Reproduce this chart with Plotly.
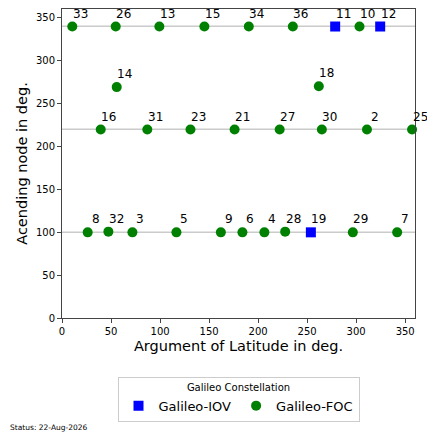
import plotly.graph_objects as go

# Galileo satellites: argument of latitude (deg) and ascending node (deg)
iov_prn = ["11", "12", "19"]
iov_arg_lat = [278.6, 324.5, 253.8]
iov_raan = [339.6, 339.6, 99.8]

foc_prn = ["33", "26", "13", "15", "34", "36", "10",
           "14", "18",
           "16", "31", "23", "21", "27", "30", "2", "25",
           "8", "32", "3", "5", "9", "6", "4", "28", "29", "7"]
foc_arg_lat = [10.5, 54.8, 99.3, 145.2, 190.5, 235.4, 303.4,
               55.8, 261.9,
               39.5, 87.0, 131.0, 176.0, 222.0, 265.0, 311.0, 357.0,
               26.2, 47.3, 71.8, 116.7, 162.0, 184.0, 206.4, 227.6, 296.6, 341.8]
foc_raan = [339.6, 339.6, 339.6, 339.6, 339.6, 339.6, 339.6,
            269.0, 270.0,
            219.6, 219.6, 219.6, 219.6, 219.6, 219.6, 219.6, 219.6,
            99.8, 100.6, 99.8, 99.8, 99.8, 99.8, 99.8, 100.6, 99.8, 99.8]

# orbital planes
plane_raan = [100, 220, 340]

status = "Status: 22-Aug-2026"

font = "DejaVu Sans, Verdana, sans-serif"

fig = go.Figure()

fig.add_trace(go.Scatter(x=iov_arg_lat, y=iov_raan, mode="markers", name="Galileo-IOV",
                         marker=dict(symbol="square", size=10, color="blue"), cliponaxis=False))
fig.add_trace(go.Scatter(x=foc_arg_lat, y=foc_raan, mode="markers", name="Galileo-FOC",
                         marker=dict(symbol="circle", size=10, color="green"), cliponaxis=False))

for r in plane_raan:
    fig.add_shape(type="line", xref="paper", x0=0, x1=1, yref="y", y0=r, y1=r,
                  line=dict(color="#b0b0b0", width=1), layer="below")

for prn, x, y in list(zip(iov_prn, iov_arg_lat, iov_raan)) + list(zip(foc_prn, foc_arg_lat, foc_raan)):
    fig.add_annotation(x=x, y=y, text=prn, showarrow=False, xshift=8, yshift=13,
                       font=dict(size=12, color="black", family=font))

fig.add_annotation(xref="paper", yref="paper", x=-0.153, y=-0.353, text=status,
                   showarrow=False, xanchor="left", yanchor="middle",
                   font=dict(size=7.5, color="black", family=font))

axis_style = dict(range=[0, 360], tickvals=[0, 50, 100, 150, 200, 250, 300, 350],
                  showgrid=False, zeroline=False, showline=True, linecolor="#444",
                  linewidth=1, mirror=True, ticks="outside", ticklen=4, tickcolor="#444",
                  tickfont=dict(size=10, color="black", family=font), automargin=False)

fig.update_xaxes(title=dict(text="Argument of Latitude in deg.", font=dict(size=14.5, color="black", family=font), standoff=4),
                 **axis_style)
fig.update_yaxes(title=dict(text="Acending node in deg.", font=dict(size=14.5, color="black", family=font), standoff=4),
                 **axis_style)

# page body has an 8px margin, so the figure is trimmed by that much
fig.update_layout(
    width=427, height=431,
    margin=dict(l=54, r=20, t=1, b=121, autoexpand=False),
    plot_bgcolor="white", paper_bgcolor="white",
    font=dict(family=font, color="black"),
    legend=dict(orientation="h", x=0.5, xanchor="center", y=-0.19, yanchor="top",
                title=dict(text="Galileo Constellation", side="top center", font=dict(size=10, family=font)),
                font=dict(size=13, family=font), bordercolor="#cccccc", borderwidth=1,
                bgcolor="white", itemwidth=30, tracegroupgap=0),
    showlegend=True,
)

fig.write_html("out.html")
